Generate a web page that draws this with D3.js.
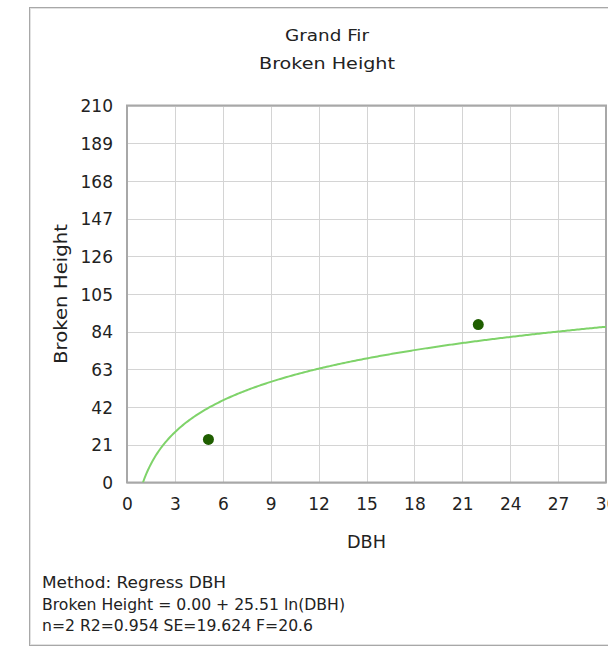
<!DOCTYPE html>
<html>
<head>
<meta charset="utf-8">
<script src="https://cdn.jsdelivr.net/npm/d3@7"></script>
<style>
  body { margin: 0; background: #fff; }
  svg { display: block; }
  text { font-family: "DejaVu Sans", Verdana, sans-serif; fill: #222; }
</style>
</head>
<body>
<svg width="608" height="647"></svg>
<script>
// chart values
var titleLines = ["Grand Fir", "Broken Height"];
var xTicks = [0, 3, 6, 9, 12, 15, 18, 21, 24, 27, 30];
var yTicks = [0, 21, 42, 63, 84, 105, 126, 147, 168, 189, 210];
var dbh = [5.1, 22];
var brokenHeight = [24, 88];
// regression shown in the footer: y = a + b ln(x)
var fitIntercept = 0.00;
var fitSlope = 25.51;
var footerLines = [
  "Method: Regress DBH",
  "Broken Height = 0.00 + 25.51 ln(DBH)",
  "n=2 R2=0.954 SE=19.624 F=20.6"
];

var svg = d3.select("svg");

// panel border (runs off the right edge)
svg.append("rect")
  .attr("x", 29.5).attr("y", 7.5)
  .attr("width", 640).attr("height", 638)
  .attr("fill", "#fff")
  .attr("stroke", "#a8a8a8");
svg.append("rect")
  .attr("x", 30.5).attr("y", 8.5)
  .attr("width", 640).attr("height", 636)
  .attr("fill", "none")
  .attr("stroke", "#e2e2e2");

var plot = { left: 127, right: 606, top: 105.5, bottom: 482.5 };

var x = d3.scaleLinear().domain([0, 30]).range([plot.left, plot.right]);
var y = d3.scaleLinear().domain([0, 210]).range([plot.bottom, plot.top]);

// titles
svg.selectAll("text.title")
  .data(titleLines)
  .enter()
  .append("text")
  .attr("class", "title")
  .attr("x", 327)
  .attr("y", function(d, i) { return 41 + i * 28; })
  .attr("text-anchor", "middle")
  .attr("font-size", 16)
  .attr("textLength", function(d, i) { return i == 0 ? 84 : 136; })
  .attr("lengthAdjust", "spacingAndGlyphs")
  .text(function(d) { return d; });

// grid
var grid = svg.append("g").attr("id", "grid");
grid.selectAll("line.vx")
  .data(xTicks)
  .enter()
  .append("line")
  .attr("x1", function(d) { return Math.round(x(d)) + 0.5; })
  .attr("x2", function(d) { return Math.round(x(d)) + 0.5; })
  .attr("y1", plot.top)
  .attr("y2", plot.bottom)
  .attr("stroke", "#d4d4d4");
grid.selectAll("line.hy")
  .data(yTicks)
  .enter()
  .append("line")
  .attr("y1", function(d) { return Math.round(y(d)) + 0.5; })
  .attr("y2", function(d) { return Math.round(y(d)) + 0.5; })
  .attr("x1", plot.left)
  .attr("x2", plot.right)
  .attr("stroke", "#d4d4d4");

// plot frame
svg.append("rect")
  .attr("x", plot.left).attr("y", plot.top)
  .attr("width", plot.right - plot.left)
  .attr("height", plot.bottom - plot.top)
  .attr("fill", "none")
  .attr("stroke", "#a8a8a8")
  .attr("stroke-width", 2);

// axes (labels only, gridlines drawn above)
var xAxis = svg.append("g")
  .attr("transform", "translate(0," + plot.bottom + ")")
  .call(d3.axisBottom(x).tickValues(xTicks).tickSize(0).tickPadding(15));
var yAxis = svg.append("g")
  .attr("transform", "translate(" + plot.left + ",0)")
  .call(d3.axisLeft(y).tickValues(yTicks).tickSize(0).tickPadding(14));
[xAxis, yAxis].forEach(function(a) {
  a.select(".domain").remove();
  a.selectAll("text")
    .attr("font-family", "DejaVu Sans, Verdana, sans-serif")
    .attr("font-size", 17)
    .attr("fill", "#222");
});
yAxis.selectAll("text").attr("dy", "0.36em");

// axis titles
svg.append("text")
  .attr("x", (plot.left + plot.right) / 2)
  .attr("y", 548)
  .attr("text-anchor", "middle")
  .attr("font-size", 17)
  .attr("textLength", 39)
  .attr("lengthAdjust", "spacingAndGlyphs")
  .text("DBH");
svg.append("text")
  .attr("transform", "translate(67," + (plot.top + plot.bottom) / 2 + ") rotate(-90)")
  .attr("text-anchor", "middle")
  .attr("font-size", 17)
  .attr("textLength", 140)
  .attr("lengthAdjust", "spacingAndGlyphs")
  .text("Broken Height");

// fitted curve
svg.append("clipPath").attr("id", "clip")
  .append("rect")
  .attr("x", plot.left).attr("y", plot.top)
  .attr("width", plot.right - plot.left)
  .attr("height", plot.bottom - plot.top);

var curveX = d3.range(1, 30.01, 0.1);
var line = d3.line()
  .x(function(d) { return x(d); })
  .y(function(d) { return y(fitIntercept + fitSlope * Math.log(d)); });
svg.append("path")
  .datum(curveX)
  .attr("d", line)
  .attr("clip-path", "url(#clip)")
  .attr("fill", "none")
  .attr("stroke", "#7fd36a")
  .attr("stroke-width", 2);

// observations
svg.selectAll("circle.obs")
  .data(dbh)
  .enter()
  .append("circle")
  .attr("class", "obs")
  .attr("cx", function(d) { return x(d); })
  .attr("cy", function(d, i) { return y(brokenHeight[i]); })
  .attr("r", 5.5)
  .attr("fill", "#1f5e00");

// footer
var footerWidths = [184, 303, 271];
svg.selectAll("text.footer")
  .data(footerLines)
  .enter()
  .append("text")
  .attr("class", "footer")
  .attr("x", 42)
  .attr("y", function(d, i) { return 588 + i * 21.5; })
  .attr("font-size", 15)
  .attr("textLength", function(d, i) { return footerWidths[i]; })
  .attr("lengthAdjust", "spacingAndGlyphs")
  .text(function(d) { return d; });
</script>
</body>
</html>
